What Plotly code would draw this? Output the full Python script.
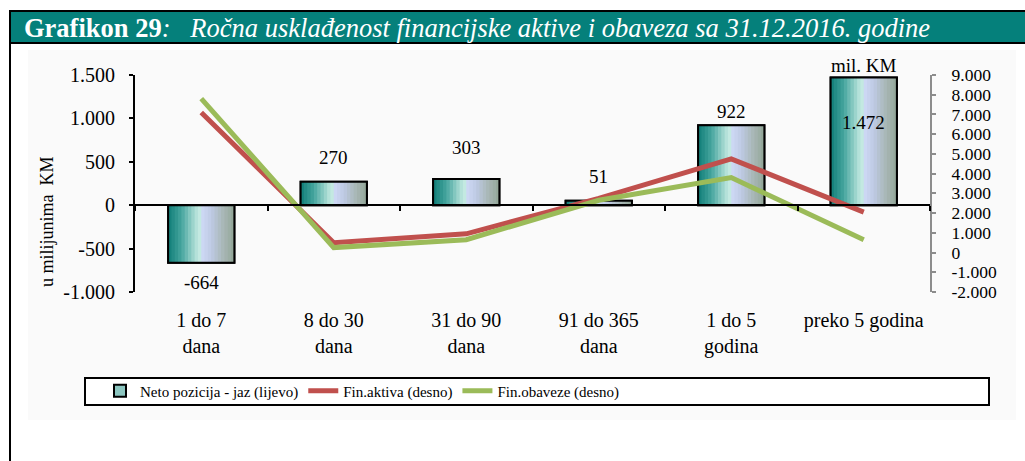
import plotly.graph_objects as go

# ---------------- data ----------------
categories = ["1 do 7 dana", "8 do 30 dana", "31 do 90 dana", "91 do 365 dana",
              "1 do 5 godina", "preko 5 godina"]
category_tick_labels = ["1 do 7<br>dana", "8 do 30<br>dana", "31 do 90<br>dana",
                        "91 do 365<br>dana", "1 do 5<br>godina", "preko 5 godina"]
neto_pozicija = [-664, 270, 303, 51, 922, 1472]
neto_labels = ["-664", "270", "303", "51", "922", "1.472"]
fin_aktiva = [7100, 500, 950, 2750, 4750, 2050]
fin_obaveze = [7800, 250, 650, 2650, 3800, 650]

left_tick_vals = [-1000, -500, 0, 500, 1000, 1500]
left_tick_text = ["-1.000", "-500", "0", "500", "1.000", "1.500"]
right_tick_vals = [-2000, -1000, 0, 1000, 2000, 3000, 4000, 5000, 6000, 7000, 8000, 9000]
right_tick_text = ["-2.000", "-1.000", "0", "1.000", "2.000", "3.000", "4.000",
                   "5.000", "6.000", "7.000", "8.000", "9.000"]

title_bold = "Grafikon 29"
title_rest = "Ročna usklađenost financijske aktive i obaveza sa 31.12.2016. godine"
y_title = "u milijunima  KM"
unit_label = "mil. KM"

# ---------------- styling / geometry ----------------
W, H = 1025, 461
PL, PR, PT, PB = 135, 930, 75, 292
FONT = "Liberation Serif, Times New Roman, DejaVu Serif, serif"
TEAL = "#05807b"
RED = "#c0504d"
GREEN = "#9bbb59"
LEFT_RANGE = [-1000, 1500]
RIGHT_RANGE = [-2000, 9000]
label_shift = [-20, 24, 31, 24, 14, -45]


def px(x):
    return (x - PL) / (PR - PL)


def py(y):
    return (PB - y) / (PB - PT)


grad_stops = [(0.0, (15, 125, 119)), (0.2, (70, 165, 158)), (0.42, (178, 224, 216)),
              (0.49, (200, 236, 228)), (0.51, (206, 217, 245)), (0.65, (190, 202, 228)),
              (0.82, (170, 184, 185)), (1.0, (146, 166, 150))]


def grad_color(t):
    for (t0, c0), (t1, c1) in zip(grad_stops[:-1], grad_stops[1:]):
        if t0 <= t <= t1:
            f = (t - t0) / (t1 - t0) if t1 > t0 else 0
            c = [round(a + (b - a) * f) for a, b in zip(c0, c1)]
            return "rgb(%d,%d,%d)" % tuple(c)
    return "rgb(%d,%d,%d)" % grad_stops[-1][1]


BAR_W = 0.5
N_STRIPS = 20
strip_w = BAR_W / N_STRIPS

fig = go.Figure()

# legend carrier (fully covered by strips)
fig.add_trace(go.Bar(
    x=categories, y=neto_pozicija, width=BAR_W,
    marker=dict(color="#8cc6c0", line=dict(color="black", width=2)),
    name="Neto pozicija - jaz (lijevo)", xaxis="x", yaxis="y", hoverinfo="skip"))

for k in range(N_STRIPS):
    t = (k + 0.5) / N_STRIPS
    wk = strip_w * 1.3 if k < N_STRIPS - 1 else strip_w
    fig.add_trace(go.Bar(
        x=categories, y=neto_pozicija, width=wk, offset=-BAR_W / 2 + k * strip_w,
        marker=dict(color=grad_color(t), line=dict(width=0)),
        showlegend=False, xaxis="x", yaxis="y", hoverinfo="skip"))

# outline
fig.add_trace(go.Bar(
    x=categories, y=neto_pozicija, width=BAR_W,
    marker=dict(color="rgba(0,0,0,0)", line=dict(color="black", width=2)),
    showlegend=False, xaxis="x", yaxis="y", name="Neto pozicija - jaz (lijevo)"))

fig.add_trace(go.Scatter(
    x=categories, y=fin_aktiva, mode="lines", name="Fin.aktiva (desno)",
    line=dict(color=RED, width=5), xaxis="x2", yaxis="y2"))
fig.add_trace(go.Scatter(
    x=categories, y=fin_obaveze, mode="lines", name="Fin.obaveze (desno)",
    line=dict(color=GREEN, width=5), xaxis="x2", yaxis="y2"))

zero_pos = (0 - LEFT_RANGE[0]) / (LEFT_RANGE[1] - LEFT_RANGE[0])

shapes = [
    dict(type="rect", xref="paper", yref="paper", x0=px(28), x1=px(1016), y0=py(420), y1=py(50),
         fillcolor="#fafafa", line=dict(width=0), layer="below"),
    dict(type="rect", xref="paper", yref="paper", x0=px(85), x1=px(989), y0=py(405), y1=py(378),
         fillcolor="white", line=dict(color="black", width=2), layer="below"),
    dict(type="rect", xref="paper", yref="paper", x0=px(10), x1=px(1045), y0=py(480), y1=py(11),
         fillcolor="rgba(0,0,0,0)", line=dict(color="black", width=2), layer="below"),
    dict(type="rect", xref="paper", yref="paper", x0=px(10), x1=px(1045), y0=py(43), y1=py(11),
         fillcolor=TEAL, line=dict(color="black", width=2), layer="below"),
]

annotations = [
    dict(xref="paper", yref="paper", x=px(22), y=py(28), xanchor="left", yanchor="middle",
         showarrow=False, font=dict(family=FONT, size=26.5, color="white"),
         text="<b>" + title_bold + "</b><i>:   " + title_rest + "</i>"),
    dict(xref="paper", yref="paper", x=px(47), y=py(222), textangle=-90, showarrow=False,
         xanchor="center", yanchor="middle", font=dict(family=FONT, size=18, color="black"),
         text=y_title),
    dict(xref="x", yref="paper", x=categories[-1], y=py(78), yanchor="bottom", showarrow=False,
         font=dict(family=FONT, size=19, color="black"), text=unit_label),
]
for c, v, lab, s in zip(categories, neto_pozicija, neto_labels, label_shift):
    annotations.append(dict(xref="x", yref="y", x=c, y=v, yshift=s, showarrow=False,
                            font=dict(family=FONT, size=19, color="black"), text=lab))

fig.update_layout(
    width=W, height=H,
    margin=dict(l=PL, r=W - PR, t=PT, b=H - PB),
    paper_bgcolor="white", plot_bgcolor="rgba(0,0,0,0)",
    barmode="overlay", bargap=0.5,
    font=dict(family=FONT, size=19, color="black"),
    showlegend=True,
    legend=dict(orientation="h", x=px(100), xanchor="left", y=py(391), yanchor="middle",
                font=dict(family=FONT, size=15, color="black"), bgcolor="rgba(0,0,0,0)",
                itemwidth=30, traceorder="normal"),
    xaxis=dict(type="category", categoryorder="array", categoryarray=categories,
               range=[-0.5, len(categories) - 0.5], showline=False, ticks="",
               showgrid=False, zeroline=False, tickmode="array", tickvals=categories,
               ticktext=category_tick_labels, ticklabelstandoff=14,
               tickfont=dict(family=FONT, size=20, color="black")),
    xaxis2=dict(type="category", categoryorder="array", categoryarray=categories,
                range=[-0.5, len(categories) - 0.5], overlaying="x", anchor="free",
                position=zero_pos, side="bottom", showline=True, linecolor="black", linewidth=2,
                ticks="outside", tickson="boundaries", ticklen=5, tickcolor="black", tickwidth=2,
                showticklabels=False, showgrid=False, zeroline=False),
    yaxis=dict(range=LEFT_RANGE, tickmode="array", tickvals=left_tick_vals, ticktext=left_tick_text,
               showline=True, linecolor="black", linewidth=2, ticks="outside", ticklen=4,
               tickcolor="black", tickwidth=2, showgrid=False, zeroline=False,
               ticklabelstandoff=10, tickfont=dict(family=FONT, size=20, color="black")),
    yaxis2=dict(range=RIGHT_RANGE, overlaying="y", side="right", anchor="x2",
                tickmode="array", tickvals=right_tick_vals, ticktext=right_tick_text,
                showline=True, linecolor="#8c8c8c", linewidth=2, ticks="outside", ticklen=4,
                tickcolor="#8c8c8c", tickwidth=2, showgrid=False, zeroline=False,
                ticklabelstandoff=12, tickfont=dict(family=FONT, size=17.5, color="black")),
    shapes=shapes, annotations=annotations,
)

fig.write_html("out.html", config={"displayModeBar": False},
               post_script="document.body.style.margin='0';")
